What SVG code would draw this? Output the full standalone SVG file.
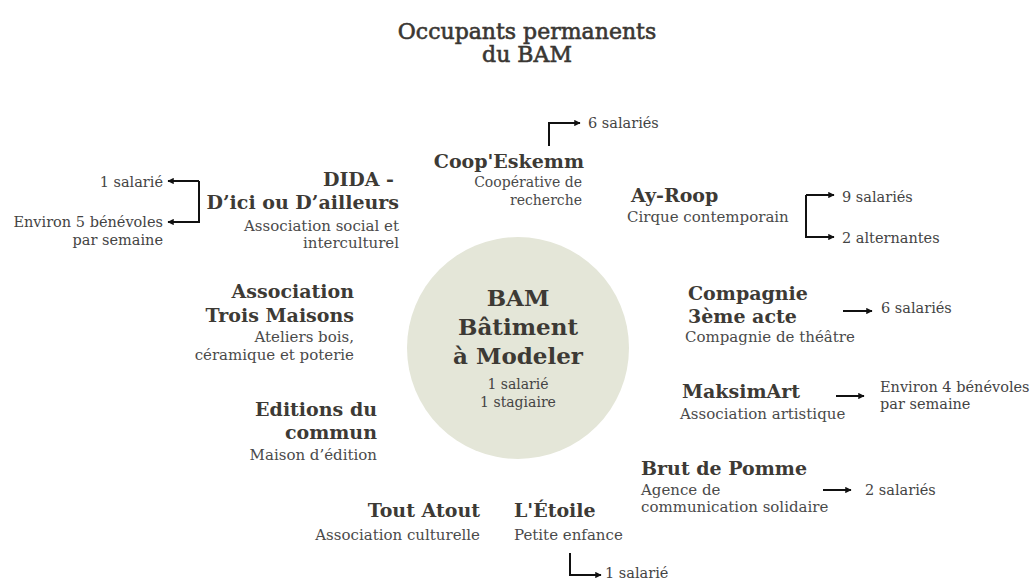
<svg xmlns="http://www.w3.org/2000/svg" width="1035" height="579" viewBox="0 0 1035 579">
<defs>
<marker id="ah" viewBox="0 0 10 10" refX="9" refY="5" markerWidth="3.2" markerHeight="3.2" orient="auto" markerUnits="strokeWidth">
<path d="M0,0 L10,5 L0,10 z" fill="#111"/>
</marker>
<style>
text{font-family:"DejaVu Serif","Liberation Serif",serif;}
.title{font-size:22px;fill:#3a3733;stroke:#3a3733;stroke-width:0.6px;}
.name{font-size:19px;font-weight:bold;fill:#3d3a35;}
.big{font-size:23px;font-weight:bold;fill:#3d3a35;}
.desc{font-size:15px;fill:#4a4a4a;}
.cnt{font-size:14.5px;fill:#444;}
.end{text-anchor:end;}
.mid{text-anchor:middle;}
.conn path{fill:none;stroke:#111;stroke-width:2;marker-end:url(#ah);}
</style>
</defs>
<rect width="1035" height="579" fill="#fff"/>

<g id="title">
<text class="title mid" x="527" y="39">Occupants permanents</text>
<text class="title mid" x="527" y="62">du BAM</text>
</g>

<g id="bam">
<circle cx="518" cy="348" r="111" fill="#e4e6d8"/>
<text class="big mid" x="518" y="306">BAM</text>
<text class="big mid" x="518" y="335">Bâtiment</text>
<text class="big mid" x="518" y="364">à Modeler</text>
<text class="cnt mid" x="518" y="389" style="font-size:14px">1 salarié</text>
<text class="cnt mid" x="518" y="407" style="font-size:14px">1 stagiaire</text>
</g>

<g id="dida">
<text class="name end" x="394" y="186">DIDA -</text>
<text class="name end" x="399" y="209">D’ici ou D’ailleurs</text>
<text class="desc end" x="399" y="231">Association  social et</text>
<text class="desc end" x="399" y="248">interculturel</text>
<text class="cnt end" x="163" y="187">1 salarié</text>
<text class="cnt end" x="163" y="227">Environ 5 bénévoles</text>
<text class="cnt end" x="163" y="245">par semaine</text>
</g>

<g id="coop">
<text class="name end" x="584" y="168">Coop'Eskemm</text>
<text class="desc end" x="582" y="187" style="font-size:14px">Coopérative de</text>
<text class="desc end" x="582" y="205" style="font-size:14px">recherche</text>
<text class="cnt" x="588" y="128">6 salariés</text>
</g>

<g id="ayroop">
<text class="name" x="631" y="202">Ay-Roop</text>
<text class="desc" x="627" y="222">Cirque contemporain</text>
<text class="cnt" x="842" y="202">9 salariés</text>
<text class="cnt" x="842" y="243">2 alternantes</text>
</g>

<g id="troismaisons">
<text class="name end" x="354" y="298">Association</text>
<text class="name end" x="354" y="322">Trois Maisons</text>
<text class="desc end" x="354" y="342">Ateliers bois,</text>
<text class="desc end" x="354" y="360">céramique et poterie</text>
</g>

<g id="compagnie">
<text class="name" x="688" y="300">Compagnie</text>
<text class="name" x="688" y="323">3ème acte</text>
<text class="desc" x="685" y="342">Compagnie de théâtre</text>
<text class="cnt" x="881" y="313">6 salariés</text>
</g>

<g id="editions">
<text class="name end" x="377" y="416">Editions du</text>
<text class="name end" x="377" y="439">commun</text>
<text class="desc end" x="377" y="460">Maison d’édition</text>
</g>

<g id="maksimart">
<text class="name" x="682" y="398">MaksimArt</text>
<text class="desc" x="680" y="419">Association artistique</text>
<text class="cnt" x="880" y="392">Environ 4 bénévoles</text>
<text class="cnt" x="880" y="409">par semaine</text>
</g>

<g id="brutdepomme">
<text class="name" x="641" y="475">Brut de Pomme</text>
<text class="desc" x="641" y="495">Agence de</text>
<text class="desc" x="641" y="512">communication solidaire</text>
<text class="cnt" x="865" y="495">2 salariés</text>
</g>

<g id="toutatout">
<text class="name end" x="480" y="517">Tout Atout</text>
<text class="desc end" x="480" y="540">Association culturelle</text>
</g>

<g id="etoile">
<text class="name" x="514" y="517">L'Étoile</text>
<text class="desc" x="514" y="540">Petite enfance</text>
<text class="cnt" x="605" y="578">1 salarié</text>
</g>

<g id="connectors" class="conn">
<path d="M199,181 H168"/>
<path d="M199,181 V222 H168"/>
<path d="M549,146 V123 H580"/>
<path d="M806,195 H834"/>
<path d="M806,195 V237 H834"/>
<path d="M843,311 H872"/>
<path d="M836,396 H864"/>
<path d="M823,490 H851"/>
<path d="M570,553 V575 H601"/>
</g>
</svg>
